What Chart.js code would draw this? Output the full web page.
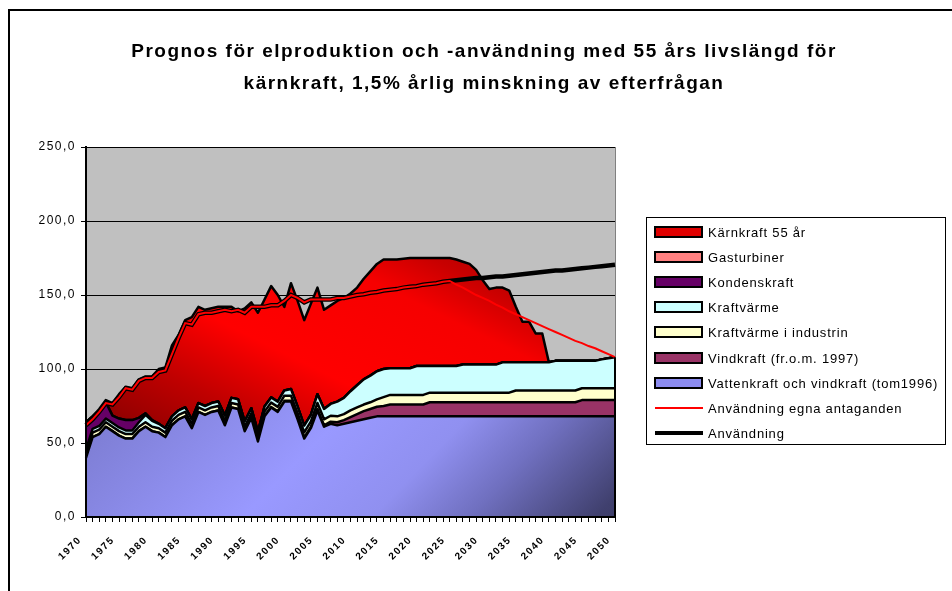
<!DOCTYPE html>
<html lang="sv">
  <head>
    <meta charset="UTF-8" />
    <title>Prognos för elproduktion och -användning</title>
    <script src="https://cdn.jsdelivr.net/npm/chart.js@4.4.1/dist/chart.umd.min.js"></script>
    <style>
      html, body { margin: 0; padding: 0; background: #fff; overflow: hidden; }
      canvas { display: block; }
    </style>
  </head>
  <body>
    <canvas id="chart" width="952" height="591"></canvas>
    <script>
      const years = [
        1970, 1971, 1972, 1973, 1974, 1975, 1976, 1977, 1978, 1979,
        1980, 1981, 1982, 1983, 1984, 1985, 1986, 1987, 1988, 1989,
        1990, 1991, 1992, 1993, 1994, 1995, 1996, 1997, 1998, 1999,
        2000, 2001, 2002, 2003, 2004, 2005, 2006, 2007, 2008, 2009,
        2010, 2011, 2012, 2013, 2014, 2015, 2016, 2017, 2018, 2019,
        2020, 2021, 2022, 2023, 2024, 2025, 2026, 2027, 2028, 2029,
        2030, 2031, 2032, 2033, 2034, 2035, 2036, 2037, 2038, 2039,
        2040, 2041, 2042, 2043, 2044, 2045, 2046, 2047, 2048, 2049,
        2050
      ];

      // TWh per year
      const vatten = [
        40, 54, 56, 61, 58, 55, 53, 53, 58, 61,
        58, 57, 54, 62, 66, 68, 60, 71, 69, 71,
        72, 62, 74, 73, 58, 67, 51, 68, 74, 71,
        78, 78, 66, 53, 60, 72, 61, 63, 62, 63,
        64, 65, 66, 67, 68, 68, 68, 68, 68, 68,
        68, 68, 68, 68, 68, 68, 68, 68, 68, 68,
        68, 68, 68, 68, 68, 68, 68, 68, 68, 68,
        68, 68, 68, 68, 68, 68, 68, 68, 68, 68,
        68
      ];
      const vind = [
        0, 0, 0, 0, 0, 0, 0, 0, 0, 0,
        0, 0, 0, 0, 0, 0, 0, 0, 0, 0,
        0, 0, 0, 0, 0, 0, 0, 0.2, 0.3, 0.4,
        0.5, 0.5, 0.6, 0.7, 0.9, 1, 1, 1.4, 2, 2.5,
        3.5, 4.5, 5.5, 6, 6.5, 7, 8, 8, 8, 8,
        8, 8, 9.5, 9.5, 9.5, 9.5, 9.5, 9.5, 9.5, 9.5,
        9.5, 9.5, 9.5, 9.5, 9.5, 9.5, 9.5, 9.5, 9.5, 9.5,
        9.5, 9.5, 9.5, 9.5, 9.5, 11, 11, 11, 11, 11,
        11
      ];
      const industri = [
        3, 3, 3, 3, 3, 3, 3, 3, 3, 3,
        3, 3, 3, 3, 3, 3, 3, 3, 3, 3,
        3, 3, 3, 3, 3, 3, 3, 3, 3, 3,
        3.5, 3.5, 3.5, 3.5, 3.5, 4, 4, 4, 4, 4,
        4.5, 4.5, 4.5, 4.5, 5, 6, 6.5, 6.5, 6.5, 6.5,
        6.5, 6.5, 6.5, 6.5, 6.5, 6.5, 6.5, 6.5, 6.5, 6.5,
        6.5, 6.5, 6.5, 6.5, 6.5, 8, 8, 8, 8, 8,
        8, 8, 8, 8, 8, 8, 8, 8, 8, 8,
        8
      ];
      const kraftvarme = [
        2.5, 2.5, 2.5, 2.5, 2.5, 2.5, 2.5, 2.5, 3, 5,
        4, 3, 3, 3, 3, 3, 3, 3, 3, 3,
        3, 3.5, 3.5, 3.5, 3.5, 3.5, 3.5, 3.5, 3.5, 3.5,
        3.5, 4.5, 4.5, 4.5, 4.5, 6, 7, 8, 10, 11,
        13, 15, 17, 18, 19, 19, 18, 18, 18, 18,
        19.5, 19.5, 18, 18, 18, 18, 18, 19, 19, 19,
        19, 19, 19, 20.5, 20.5, 19, 19, 19, 19, 19,
        19, 20, 20, 20, 20, 18.5, 18.5, 18.5, 19.5, 20.3,
        21
      ];
      const kondens = [
        18.5, 8.5, 10.5, 11, 5, 6, 7, 7, 3, 1,
        0.5, 0, 0, 0, 0, 0, 0, 0, 0, 0,
        0, 0, 0, 0, 0, 0, 0, 0, 0, 0,
        0, 0, 0, 0, 0, 0, 0, 0, 0, 0,
        0, 0, 0, 0, 0, 0, 0, 0, 0, 0,
        0, 0, 0, 0, 0, 0, 0, 0, 0, 0,
        0, 0, 0, 0, 0, 0, 0, 0, 0, 0,
        0, 0, 0, 0, 0, 0, 0, 0, 0, 0,
        0
      ];
      const gas = [
        0, 0, 0, 0, 0, 0, 0, 0, 0, 0,
        0, 0, 0, 0, 0, 0, 0, 0, 0, 0,
        0, 0, 0, 0, 0, 0, 0, 0, 0, 0,
        0, 0, 0, 0, 0, 0, 0, 0, 0, 0,
        0, 0, 0, 0, 0, 0, 0, 0, 0, 0,
        0, 0, 0, 0, 0, 0, 0, 0, 0, 0,
        0, 0, 0, 0, 0, 0, 0, 0, 0, 0,
        0, 0, 0, 0, 0, 0, 0, 0, 0, 0,
        0
      ];
      const karn = [
        0, 0, 1, 1.5, 8.5, 16.5, 22.5, 21.5, 26, 25,
        29.5, 37, 41, 48, 51, 59, 69, 65, 65, 64,
        64, 73.5, 61.5, 59.5, 76.5, 71.5, 80.5, 72.3, 75.2, 72.1,
        56.5, 71.5, 71.4, 71.3, 75.1, 72, 67, 66.6, 68, 67.5,
        66, 66, 68, 70.5, 72.5, 74, 73.5, 73.5, 74, 74.5,
        73, 73, 73, 73, 73, 73, 72, 69.5, 68, 64,
        57, 51, 52, 50.5, 48.5, 37.5, 27.5, 27.5, 19.5, 19.5,
        0, 0, 0, 0, 0, 0, 0, 0, 0, 0,
        0
      ];
      const anvEgna = [
        62, 66, 71, 77, 76, 81, 87, 86, 92, 94,
        94, 98, 99, 110, 121, 131, 130, 137, 138, 138,
        139, 140, 139, 140, 138, 142, 142, 142, 143, 143,
        146, 150, 148, 145, 147, 147, 147, 147, 148, 148,
        149, 150, 150.5, 151.5, 152, 153, 153.5, 154, 155, 155.5,
        156, 157, 157.5, 158, 159, 159.5, 157, 155, 152.5, 150,
        148, 146, 143.5, 141.5, 139, 137, 135, 133, 131, 129,
        127, 125, 123, 121, 119, 117.5, 115.5, 114, 112, 110,
        108
      ];
      const anvandning = [
        62, 66, 71, 77, 76, 81, 87, 86, 92, 94,
        94, 98, 99, 110, 121, 131, 130, 137, 138, 138,
        139, 140, 139, 140, 138, 142, 142, 142, 143, 143,
        146, 150, 148, 145, 147, 147, 147, 147, 148, 148,
        149, 150, 150.5, 151.5, 152, 153, 153.5, 154, 155, 155.5,
        156, 157, 157.5, 158, 159, 159.5, 160, 160.5, 161, 161.5,
        161.5, 162, 162.5, 162.5, 163, 163.5, 164, 164.5, 165, 165.5,
        166, 166.5, 166.5, 167, 167.5, 168, 168.5, 169, 169.5, 170,
        170.5
      ];

      const yTicks = [0, 50, 100, 150, 200, 250];
      const title = [
        'Prognos för elproduktion och -användning med 55 års livslängd för',
        'kärnkraft, 1,5% årlig minskning av efterfrågan'
      ];

      const FONT = '"Liberation Sans", Arial, sans-serif';
      Chart.defaults.font.family = FONT;
      Chart.defaults.color = '#000';

      function redFill(context) {
        const a = context.chart.chartArea;
        if (!a) return '#e00000';
        const g = context.chart.ctx.createLinearGradient(a.left, a.bottom, a.left + 208, a.top - 51);
        g.addColorStop(0, '#6e0000');
        g.addColorStop(0.2, '#8c0000');
        g.addColorStop(0.35, '#c00000');
        g.addColorStop(0.5, '#ff0000');
        g.addColorStop(0.72, '#f60000');
        g.addColorStop(0.82, '#c80000');
        g.addColorStop(1, '#900000');
        return g;
      }

      function blueFill(context) {
        const a = context.chart.chartArea;
        if (!a) return '#9999ff';
        const g = context.chart.ctx.createLinearGradient(a.left + 144, a.top + 153, a.left + 474, a.bottom + 103);
        g.addColorStop(0, '#7f7fd6');
        g.addColorStop(0.35, '#9999ff');
        g.addColorStop(0.55, '#9090f0');
        g.addColorStop(0.7, '#7070c0');
        g.addColorStop(0.9, '#40406e');
        g.addColorStop(1, '#383860');
        return g;
      }

      function area(label, data, fill, color, swatch) {
        return {
          label: label,
          data: data,
          stack: 'prod',
          fill: fill,
          backgroundColor: color,
          borderColor: '#000',
          borderWidth: 2.5,
          borderJoinStyle: 'round',
          pointRadius: 0,
          tension: 0,
          swatch: swatch
        };
      }

      const datasets = [
        area('Vattenkraft och vindkraft (tom1996)', vatten, 'origin', blueFill, '#8c8cf0'),
        area('Vindkraft (fr.o.m. 1997)', vind, '-1', '#993366', '#993366'),
        area('Kraftvärme i industrin', industri, '-1', '#ffffcc', '#ffffcc'),
        area('Kraftvärme', kraftvarme, '-1', '#ccffff', '#ccffff'),
        area('Kondenskraft', kondens, '-1', '#660066', '#660066'),
        area('Gasturbiner', gas, '-1', '#ff8080', '#ff8080'),
        area('Kärnkraft 55 år', karn, '-1', redFill, '#e00000'),
        {
          label: 'Användning egna antaganden',
          data: anvEgna,
          stack: 'egna',
          fill: false,
          borderColor: '#ff0000',
          borderWidth: 2,
          pointRadius: 0,
          tension: 0,
          order: -2
        },
        {
          label: 'Användning',
          data: anvandning,
          stack: 'anv',
          fill: false,
          borderColor: '#000',
          borderWidth: 4.5,
          pointRadius: 0,
          tension: 0,
          order: -1
        }
      ];

      // legend shows the top series first, like the original
      const legendOrder = [6, 5, 4, 3, 2, 1, 0, 7, 8];

      const frame = {
        id: 'frame',
        beforeDraw(chart) {
          const { ctx, chartArea: a, width, height } = chart;
          ctx.save();
          ctx.fillStyle = '#fff';
          ctx.fillRect(0, 0, width, height);
          ctx.fillStyle = '#c0c0c0';
          ctx.fillRect(a.left, a.top, a.right - a.left, a.bottom - a.top);
          ctx.strokeStyle = '#808080';
          ctx.lineWidth = 1;
          ctx.beginPath();
          ctx.moveTo(a.right + 0.5, a.top);
          ctx.lineTo(a.right + 0.5, a.bottom);
          ctx.stroke();
          ctx.restore();
          // the original text is set a little wide
          ctx.letterSpacing = '1.5px';
        },
        afterDatasetsDraw(chart) {
          const { ctx, chartArea: a } = chart;
          const x = chart.scales.x;
          const y = chart.scales.y;
          const last = years.length - 1;
          const top = vatten[last] + vind[last] + industri[last] + kraftvarme[last] + kondens[last] + gas[last] + karn[last];
          ctx.save();
          ctx.strokeStyle = '#000';
          ctx.lineWidth = 2;
          ctx.beginPath();
          ctx.moveTo(x.getPixelForValue(last), y.getPixelForValue(0));
          ctx.lineTo(x.getPixelForValue(last), y.getPixelForValue(top));
          ctx.stroke();
          ctx.beginPath();
          ctx.moveTo(a.left, a.top - 1);
          ctx.lineTo(a.left, a.bottom);
          ctx.lineTo(a.right + 1, a.bottom);
          ctx.stroke();
          ctx.restore();
        },
        afterDraw(chart) {
          const { ctx, width, height } = chart;
          ctx.save();
          ctx.strokeStyle = '#000';
          ctx.lineWidth = 2;
          ctx.beginPath();
          ctx.moveTo(9, height + 5);
          ctx.lineTo(9, 10);
          ctx.lineTo(width + 5, 10);
          ctx.stroke();
          ctx.restore();
        }
      };

      const boxLegend = {
        id: 'boxLegend',
        afterDraw(chart) {
          const ctx = chart.ctx;
          ctx.save();
          ctx.strokeStyle = '#000';
          ctx.lineWidth = 1;
          ctx.strokeRect(646.5, 217.5, 299, 227);
          ctx.font = '13px ' + FONT;
          ctx.letterSpacing = '0.8px';
          ctx.textBaseline = 'middle';
          legendOrder.forEach((di, i) => {
            const ds = chart.data.datasets[di];
            const yc = Math.round(232 + i * 25.1);
            if (ds.fill === false) {
              ctx.strokeStyle = ds.borderColor;
              ctx.lineWidth = ds.borderWidth > 3 ? 4 : 2;
              ctx.beginPath();
              ctx.moveTo(655, yc);
              ctx.lineTo(703, yc);
              ctx.stroke();
            } else {
              ctx.fillStyle = ds.swatch;
              ctx.fillRect(655, yc - 5, 47, 10);
              ctx.strokeStyle = '#000';
              ctx.lineWidth = 2;
              ctx.strokeRect(655, yc - 5, 47, 10);
            }
            ctx.fillStyle = '#000';
            ctx.fillText(ds.label, 708, yc + 1);
          });
          ctx.restore();
        }
      };

      const chart = new Chart(document.getElementById('chart').getContext('2d'), {
        type: 'line',
        data: { labels: years.map(String), datasets: datasets },
        plugins: [frame, boxLegend],
        options: {
          responsive: false,
          animation: false,
          devicePixelRatio: 1,
          layout: { padding: { left: 16, right: 0, top: 0, bottom: 0 } },
          plugins: {
            legend: { display: false },
            tooltip: { enabled: false },
            title: {
              display: true,
              text: title,
              color: '#000',
              font: { size: 19, weight: 'bold', family: FONT, lineHeight: 32 / 19 },
              padding: { top: 36, bottom: 47 }
            }
          },
          scales: {
            x: {
              grid: { drawOnChartArea: false, drawTicks: true, tickLength: 5, color: '#000' },
              border: { color: '#000', width: 2 },
              ticks: {
                autoSkip: false,
                minRotation: 45,
                maxRotation: 45,
                padding: 12,
                labelOffset: -6,
                color: '#000',
                font: { size: 10, weight: 'bold' },
                callback: (v, i) => (years[i] % 5 === 0 ? String(years[i]) : '')
              },
              afterFit: (s) => { s.height = 74; }
            },
            y: {
              stacked: true,
              min: yTicks[0],
              max: yTicks[yTicks.length - 1],
              grid: { color: '#000', lineWidth: 1, tickLength: 5 },
              border: { color: '#000', width: 2 },
              ticks: {
                stepSize: 50,
                padding: 5,
                color: '#000',
                font: { size: 12 },
                callback: (v) => v.toFixed(1).replace('.', ',')
              },
              afterFit: (s) => { s.width = 70; }
            },
            spacer: {
              type: 'linear',
              position: 'right',
              display: true,
              grid: { display: false },
              ticks: { display: false },
              border: { display: false },
              afterFit: (s) => { s.width = 337; }
            }
          }
        }
      });
    </script>
  </body>
</html>
